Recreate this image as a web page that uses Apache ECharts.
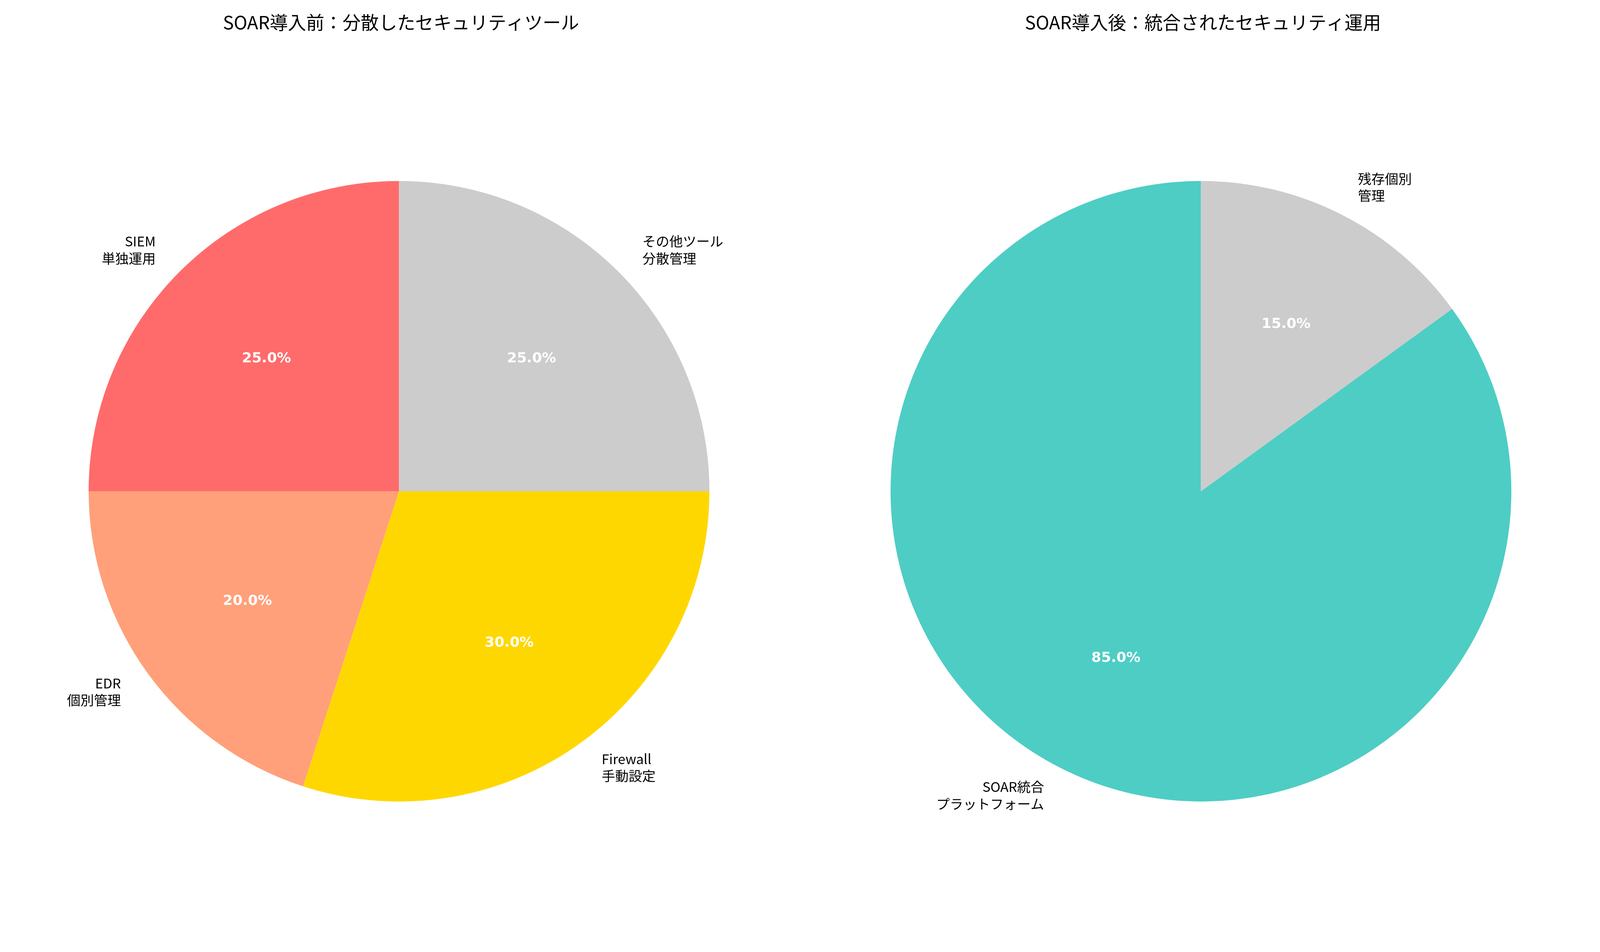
<!DOCTYPE html>
<html>
<head>
<meta charset="utf-8">
<script src="https://cdn.jsdelivr.net/npm/echarts@6/dist/echarts.min.js"></script>
<style>
html, body { margin: 0; padding: 0; background: #fff; overflow: hidden; }
#main { width: 100vw; height: 100vh; }
</style>
</head>
<body>
<div id="main"></div>
<script>
// 導入前
var beforeNames = ['SIEM\n単独運用', 'EDR\n個別管理', 'Firewall\n手動設定', 'その他ツール\n分散管理'];
var beforeValues = [25, 20, 30, 25];
var beforeColors = ['#FF6B6B', '#FFA07A', '#FFD700', '#CCCCCC'];
// 導入後
var afterNames = ['SOAR統合\nプラットフォーム', '残存個別\n管理'];
var afterValues = [85, 15];
var afterColors = ['#4ECDC4', '#CCCCCC'];

var font = 'Noto Sans CJK JP';
var W = window.innerWidth, H = window.innerHeight;
var k = W / 4747;
var R = Math.min(H * 0.381, W * 0.194);

function toData(names, values, colors) {
    return names.map(function (n, i) {
        return { name: n, value: values[i], itemStyle: { color: colors[i] } };
    });
}

function pieSeries(center, names, values, colors) {
    return [
        {
            type: 'pie',
            center: center,
            radius: [0, R],
            startAngle: 90,
            clockwise: false,
            silent: true,
            label: {
                show: true,
                position: 'outside',
                fontFamily: font,
                fontSize: 40 * k,
                lineHeight: 50 * k,
                color: '#000'
            },
            labelLine: { show: false, length: R * 0.1, length2: 0 },
            data: toData(names, values, colors)
        },
        {
            // 透明な外側を使って内側ラベルを半径0.6の位置に置く
            type: 'pie',
            center: center,
            radius: [0, R * 1.2],
            startAngle: 90,
            clockwise: false,
            silent: true,
            itemStyle: { color: 'rgba(0,0,0,0)' },
            label: {
                show: true,
                position: 'inside',
                formatter: function (p) { return p.value.toFixed(1) + '%'; },
                fontFamily: 'DejaVu Sans',
                fontWeight: 'bold',
                fontSize: 42 * k,
                color: '#fff'
            },
            labelLine: { show: false },
            data: names.map(function (n, i) { return { name: n, value: values[i] }; })
        }
    ];
}

var myChart = echarts.init(document.getElementById('main'));
var option = {
    backgroundColor: '#fff',
    animation: false,
    title: [
        {
            text: 'SOAR導入前：分散したセキュリティツール',
            left: W * 0.2494, top: H * 0.012, textAlign: 'center',
            textStyle: { fontFamily: font, fontSize: 54 * k, fontWeight: 'normal', color: '#000' }
        },
        {
            text: 'SOAR導入後：統合されたセキュリティ運用',
            left: W * 0.7506, top: H * 0.012, textAlign: 'center',
            textStyle: { fontFamily: font, fontSize: 54 * k, fontWeight: 'normal', color: '#000' }
        }
    ],
    series: pieSeries(['24.94%', '51.6%'], beforeNames, beforeValues, beforeColors)
        .concat(pieSeries(['75.06%', '51.6%'], afterNames, afterValues, afterColors))
};
myChart.setOption(option);
</script>
</body>
</html>
